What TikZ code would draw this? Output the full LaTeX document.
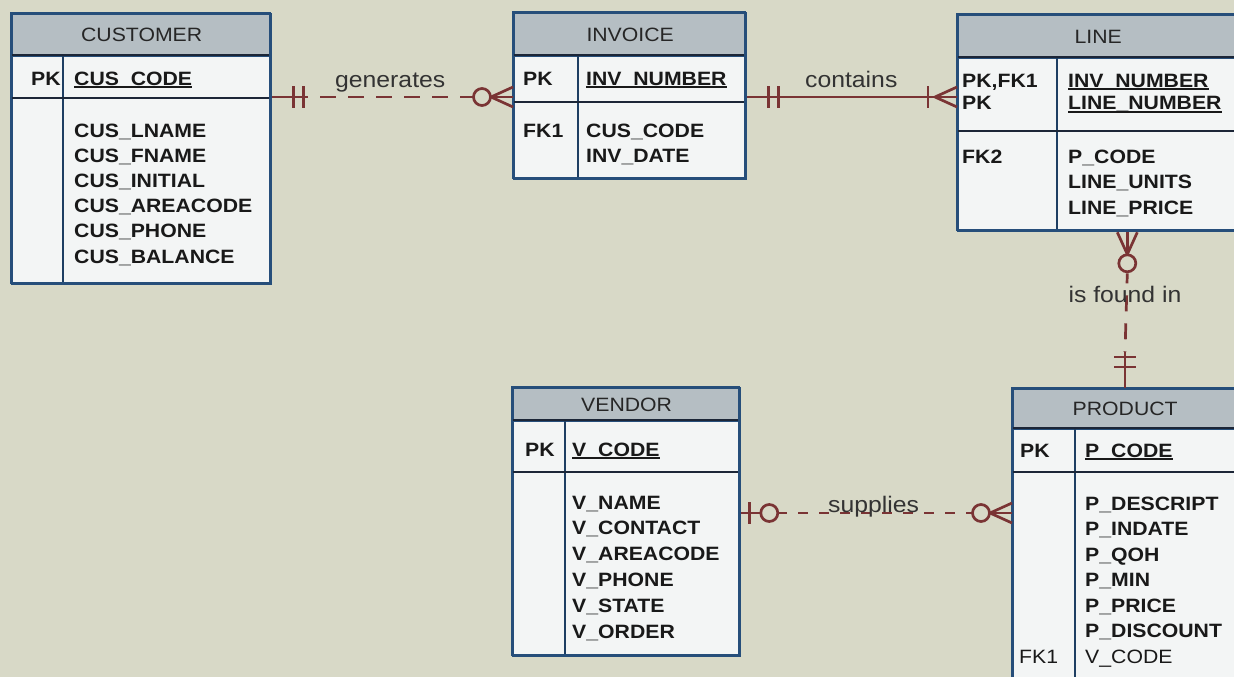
\documentclass[tikz,border=0pt]{standalone}
\usepackage{fontspec}
\setmainfont{Liberation Sans}[FakeStretch=1.1]
\usetikzlibrary{calc}
\definecolor{bgc}{RGB}{216,217,199}
\definecolor{hdr}{RGB}{181,190,195}
\definecolor{bodyc}{RGB}{243,245,245}
\definecolor{bordc}{RGB}{38,78,122}
\definecolor{sepc}{RGB}{28,38,55}
\definecolor{relc}{RGB}{122,52,52}
\newcommand\keyul[1]{{\setbox0=\hbox{#1}\leavevmode\rlap{\rule[-3.2pt]{\wd0}{1.8pt}}\box0}}
\newcommand\ertbl[9]{%
  \node[tblbody, minimum width=#4-#2, minimum height=#5-#3] (#1) at (#2,#3) {};
  \node[tblhead, minimum width=#4-#2, minimum height=#6-#3] (#1h) at (#2,#3) {};
  \node[ttl] (#1t) at (#1h.center) {#9};
  \draw[colline] (#8,#6) -- (#8,#5);
  \draw[sepline] (#2,#6) -- (#4,#6);
  \draw[sepline] (#2,#7) -- (#4,#7);
  \draw[draw=bordc, line width=2.3pt] (#2,#3) rectangle (#4,#5);
}
\tikzset{
  tblbody/.style={draw=bordc, line width=2.3pt, fill=bodyc, inner sep=0pt, anchor=north west},
  tblhead/.style={draw=bordc, line width=2.3pt, fill=hdr, inner sep=0pt, anchor=north west},
  ttl/.style={font=\fontsize{19.3}{23}\selectfont, text=black!85, inner sep=0pt},
  attr/.style={font=\fontsize{19.3}{23}\selectfont\bfseries, text=black!90, anchor=base west, inner sep=0pt},
  attrn/.style={font=\fontsize{19.3}{23}\selectfont, text=black!90, anchor=base west, inner sep=0pt},
  sepline/.style={draw=sepc, line width=2.4pt},
  colline/.style={draw=bordc!80!black, line width=2pt},
  rel/.style={draw=relc, line width=2.7pt},
  lbl/.style={font=\fontsize{22.5}{27}\selectfont, text=black!80, inner sep=0pt, anchor=base west},
  manyzero/.pic={
    \draw[rel] (-24,0) -- (0,0);
    \draw[rel] (-22,0) -- (0,-10) (-22,0) -- (0,10);
    \draw[rel, fill=bgc] (-31,0) circle (8.5);
  },
  manyone/.pic={
    \draw[rel] (-30,0) -- (0,0);
    \draw[rel] (-22,0) -- (0,-10) (-22,0) -- (0,10);
    \draw[rel] (-29,-11) -- (-29,11);
  },
  oneone/.pic={
    \draw[rel] (0,0) -- (36,0);
    \draw[rel] (21,-11) -- (21,11) (31,-11) -- (31,11);
  },
  onezero/.pic={
    \draw[rel] (0,0) -- (20,0);
    \draw[rel] (8,-11) -- (8,11);
    \draw[rel, fill=bgc] (28,0) circle (8.5);
  }
}
\begin{document}
\begin{tikzpicture}[x=1pt,y=-1pt]
\clip (0,0) rectangle (1234,677);
\fill[bgc] (0,0) rectangle (1234,677);

% CUSTOMER
\ertbl{cus}{11}{13}{270}{283}{55}{98}{63}{CUSTOMER}
\node[attr] (cuspk) at (31,85) {PK};
\node[attr] (cuskey) at (74,85) {\keyul{CUS\_CODE}};
\foreach \t [count=\i from 0] in {CUS\_LNAME,CUS\_FNAME,CUS\_INITIAL,CUS\_AREACODE,CUS\_PHONE,CUS\_BALANCE}
  \node[attr] (cusa\i) at (74,{137+25.2*\i}) {\t};

% INVOICE
\ertbl{inv}{513}{12}{745}{178}{55}{102}{578}{INVOICE}
\node[attr] (invpk) at (523,85) {PK};
\node[attr] (invkey) at (586,85) {\keyul{INV\_NUMBER}};
\node[attr] (invfk) at (523,137) {FK1};
\node[attr] (inva0) at (586,137) {CUS\_CODE};
\node[attr] (inva1) at (586,162) {INV\_DATE};

% LINE
\ertbl{line}{957}{14}{1237}{230}{57}{131}{1057}{LINE}
\node[attr] (linepk1) at (962,87) {PK,FK1};
\node[attr] (linepk2) at (962,110) {PK};
\node[attr] (linekey1) at (1068,87) {\keyul{INV\_NUMBER}};
\node[attr] (linekey2) at (1068,110) {\keyul{LINE\_NUMBER}};
\node[attr] (linefk) at (962,163) {FK2};
\foreach \t [count=\i from 0] in {P\_CODE,LINE\_UNITS,LINE\_PRICE}
  \node[attr] (linea\i) at (1068,{163+25.5*\i}) {\t};

% VENDOR
\ertbl{ven}{512}{387}{739}{655}{420}{472}{565}{VENDOR}
\node[attr] (venpk) at (525,456) {PK};
\node[attr] (venkey) at (572,456) {\keyul{V\_CODE}};
\foreach \t [count=\i from 0] in {V\_NAME,V\_CONTACT,V\_AREACODE,V\_PHONE,V\_STATE,V\_ORDER}
  \node[attr] (vena\i) at (572,{509+25.8*\i}) {\t};

% PRODUCT
\ertbl{prod}{1012}{388}{1236}{700}{428}{472}{1075}{PRODUCT}
\node[attr] (prodpk) at (1020,457) {PK};
\node[attr] (prodkey) at (1085,457) {\keyul{P\_CODE}};
\foreach \t [count=\i from 0] in {P\_DESCRIPT,P\_INDATE,P\_QOH,P\_MIN,P\_PRICE,P\_DISCOUNT}
  \node[attr] (proda\i) at (1085,{510+25.5*\i}) {\t};
\node[attrn] (prodfk) at (1019,663) {FK1};
\node[attrn] (proda6) at (1085,663) {V\_CODE};

% generates
\coordinate (g1) at ([yshift=-84pt]cus.north east);
\coordinate (g2) at ([yshift=-85pt]inv.north west);
\draw[rel, dash pattern=on 16pt off 12pt, dash phase=16pt] ([xshift=36pt]g1) -- ([xshift=-40pt]g2);
\pic at (g1) {oneone};
\pic at (g2) {manyzero};
\node[lbl] (lgen) at (335,87) {generates};

% contains
\coordinate (c1) at ([yshift=-85pt]inv.north east);
\coordinate (c2) at ([yshift=-83pt]line.north west);
\draw[rel] (c1) -- (c2);
\pic at (c1) {oneone};
\pic at (c2) {manyone};
\node[lbl] (lcon) at (805,88) {contains};

% is found in
\coordinate (f1) at ([xshift=-112pt]line.south east);
\coordinate (f2) at ([xshift=113pt]prod.north west);
\draw[rel, dash pattern=on 16pt off 12pt, dash phase=6pt] ([yshift=-41pt]f1) -- ([yshift=36pt]f2);
\pic[rotate=90] at (f1) {manyzero};
\pic[rotate=90] at (f2) {oneone};
\node[lbl, anchor=base] (lfound) at (1125,302) {is found in};

% supplies
\coordinate (s1) at ([yshift=-126pt]ven.north east);
\coordinate (s2) at ([yshift=-125pt]prod.north west);
\draw[rel, dash pattern=on 10pt off 11pt, dash phase=-20pt] ([xshift=37pt]s1) -- ([xshift=-40pt]s2);
\pic at (s1) {onezero};
\pic at (s2) {manyzero};
\node[lbl] (lsup) at (828,512) {supplies};
\end{tikzpicture}
\end{document}
